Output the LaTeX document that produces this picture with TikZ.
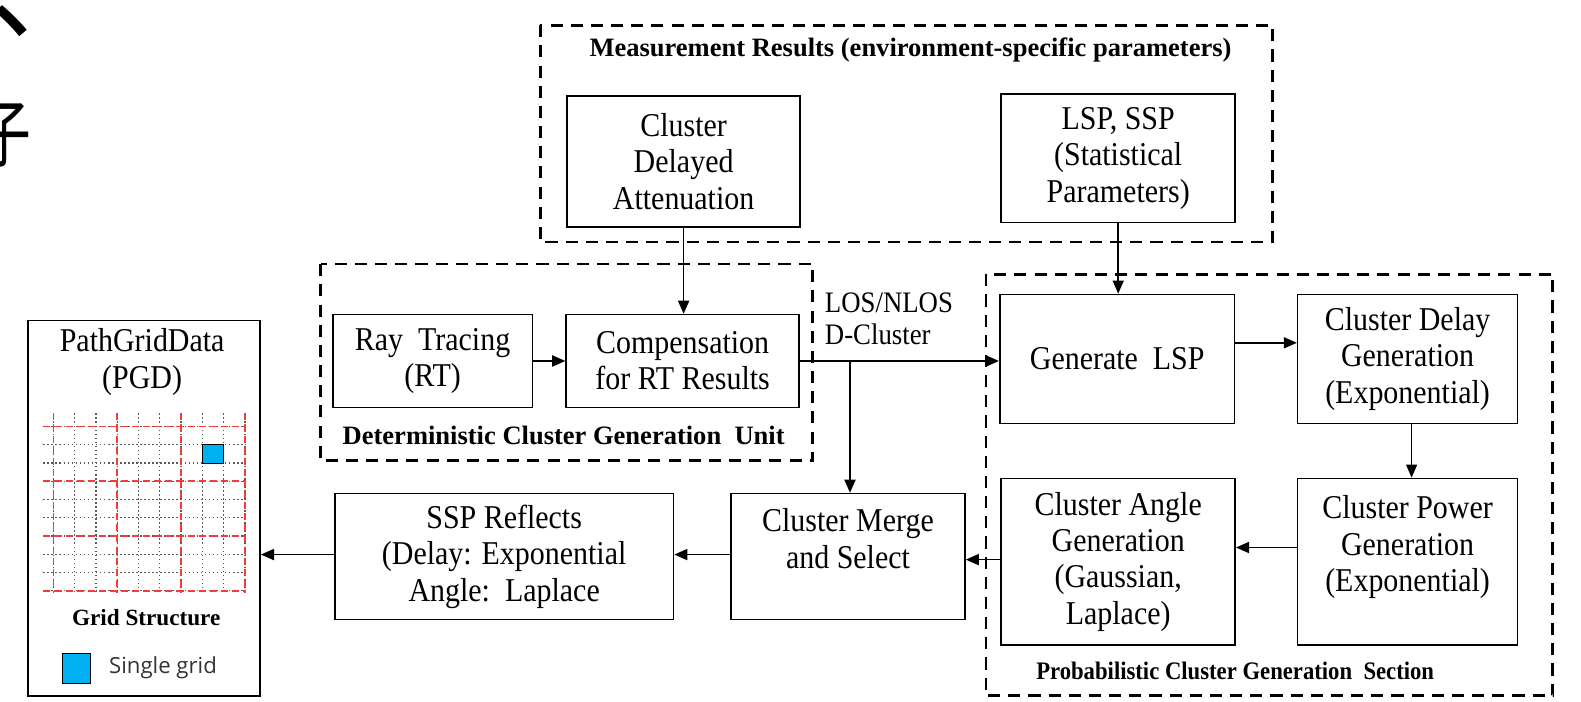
\documentclass[tikz,border=0pt]{standalone}
\usepackage{fontspec}
\setmainfont{Liberation Serif}
\newfontfamily\boxfont[FakeStretch=0.9]{Liberation Serif}
\newfontfamily\cjk{Noto Sans CJK SC}
\newfontfamily\legendfont{Open Sans}
\usetikzlibrary{arrows.meta, positioning}
\definecolor{gridblue}{RGB}{0,176,240}
\definecolor{gridred}{RGB}{240,60,60}

\tikzset{
  blk/.style={draw, line width=1.6pt, align=center, inner sep=0pt,
    font=\boxfont\fontsize{33}{36}\selectfont},
  grp/.style={line width=2.6pt, dash pattern=on 12pt off 8pt},
  ttl/.style={font=\fontsize{26.3}{30}\selectfont\bfseries},
  arr/.style={line width=1.6pt, -{Triangle[length=13pt,width=11pt]}},
}

\begin{document}
\begin{tikzpicture}[x=1pt, y=-1pt]
    \useasboundingbox (0,0) rectangle (1568,696);

    % cut-off glyphs at the left edge
    \node[font=\fontsize{110}{110}\cjk, inner sep=0] (cjka) at (45,21) {、};
    \node[font=\fontsize{74}{74}\cjk, inner sep=0, xscale=0.72] (cjkb) at (4,134) {子};

    % measurement results
    \draw[grp] (536,25) rectangle (1262,240);
    \node[ttl] (meastitle) at (903,50) {Measurement Results (environment-specific parameters)};
    \node[blk, minimum width=231pt, minimum height=130pt] (cda) at (678,160) {Cluster\\Delayed\\Attenuation};
    \node[blk, minimum width=232pt, minimum height=127pt] (lsp) at (1109,157) {LSP, SSP\\(Statistical\\Parameters)};

    % deterministic part
    \draw[grp] (318,262) rectangle (806,457);
    \node[blk, minimum width=198pt, minimum height=92pt] (rt) at (429,358) {Ray\ \ Tracing\\(RT)};
    \node[blk, minimum width=231pt, minimum height=92pt] (comp) at (677,358) {Compensation\\for RT Results};
    \node[ttl] (dettitle) at (559,432) {Deterministic Cluster Generation\ \ Unit};

    \node[anchor=west, align=left, font=\boxfont\fontsize{29.5}{32}\selectfont, inner sep=0] (los) at (818,316) {LOS/NLOS\\D-Cluster};
    \coordinate (br) at (843,358);

    % probabilistic part
    \draw[grp] (978,272) rectangle (1540,690);
    \node[blk, minimum width=233pt, minimum height=128pt] (genlsp) at (1108,356) {Generate\ \ LSP};
    \node[blk, minimum width=218pt, minimum height=128pt] (delay) at (1396,356) {Cluster Delay\\Generation\\(Exponential)};
    \node[blk, minimum width=218pt, minimum height=165pt] (power) at (1396,557) {Cluster Power\\Generation\\(Exponential)\\\mbox{}};
    \node[blk, minimum width=232pt, minimum height=165pt] (angle) at (1109,557) {Cluster Angle\\Generation\\(Gaussian,\\Laplace)};
    \node[font=\boxfont\fontsize{25}{30}\selectfont\bfseries] (probtitle) at (1225,665) {Probabilistic Cluster Generation\ \ Section};

    % merge and output
    \node[blk, minimum width=232pt, minimum height=125pt] (merge) at (841,552) {Cluster Merge\\and Select\\\mbox{}};
    \node[blk, minimum width=336pt, minimum height=125pt] (ssp) at (500,552) {SSP Reflects\\(Delay: Exponential\\Angle:\ \ Laplace};

    % path grid data
    \node[draw, line width=1.6pt, minimum width=230pt, minimum height=372pt, inner sep=0] (pgd) at (143,504) {};
    \node[font=\boxfont\fontsize{33}{36}\selectfont, align=center, inner sep=0] (pgdtitle) at (141,359) {PathGridData\\(PGD)};
    \foreach \i in {0,...,9} {
      \draw[gray!70!black, dash pattern=on 1.6pt off 2.4pt, line width=1.2pt] (53+21.1*\i,410) -- (53+21.1*\i,588);
      \draw[gray!70!black, dash pattern=on 1.6pt off 2.4pt, line width=1.2pt] (43,423+18.1*\i) -- (244,423+18.1*\i);
    }
    \foreach \i in {0,3,6,9} {
      \draw[gridred, dash pattern=on 7pt off 4pt, line width=1.8pt] (53+21.1*\i,410) -- (53+21.1*\i,588);
      \draw[gridred, dash pattern=on 7pt off 4pt, line width=1.8pt] (43,423+18.1*\i) -- (244,423+18.1*\i);
    }
    \draw[fill=gridblue, line width=1pt] (53+21.1*7,441.1) rectangle (53+21.1*8,459.2);
    \node[font=\fontsize{23}{26}\selectfont\bfseries, inner sep=0] (gridtitle) at (145,613) {Grid Structure};
    \node[draw, fill=gridblue, line width=1.2pt, minimum width=28pt, minimum height=30pt, inner sep=0] (legbox) at (76,663) {};
    \node[anchor=west, font=\fontsize{22}{26}\legendfont, text=black!80, inner sep=0] (legtext) at (108,662) {Single grid};

    % connectors
    \draw[arr] (cda.south) -- (cda.south |- comp.north);
    \draw[arr] (lsp.south) -- (lsp.south |- genlsp.north);
    \draw[arr] (rt) -- (comp);
    \draw[arr] (comp.east) -- (comp.east -| genlsp.west);
    \draw[arr] (br) -- (br |- merge.north);
    \draw[arr] ([yshift=16pt]genlsp.east) -- ([yshift=16pt]genlsp.east -| delay.west);
    \draw[arr, line width=1pt] ([xshift=4pt]delay.south) -- ([xshift=4pt]delay.south |- power.north);
    \draw[arr] ([yshift=14pt]power.west) -- ([yshift=14pt]power.west -| angle.east);
    \draw[arr] ([yshift=2pt]angle.west) -- ([yshift=2pt]angle.west -| merge.east);
    \draw[arr] ([yshift=2pt]merge.west) -- ([yshift=2pt]merge.west -| ssp.east);
    \draw[arr] ([yshift=2pt]ssp.west) -- ([yshift=2pt]ssp.west -| pgd.east);

\end{tikzpicture}
\end{document}
